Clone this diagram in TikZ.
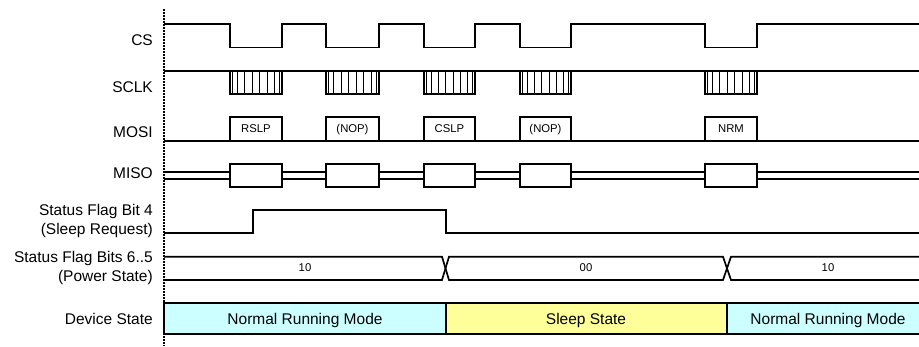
\documentclass[tikz,border=0pt]{standalone}
\usepackage{fontspec}
\setmainfont{Liberation Sans}
\definecolor{runcol}{HTML}{CCFFFF}
\definecolor{sleepcol}{HTML}{FFFF99}

\begin{document}
\begin{tikzpicture}[
  x=1pt,y=-1pt,
  sig/.style={line width=1.7pt,line join=miter},
  tick/.style={line width=1pt},
  lbl/.style={anchor=base east,inner sep=0pt,font=\fontsize{15.5}{19}\selectfont},
  lbltwo/.style={anchor=east,inner sep=0pt,align=right,font=\fontsize{15.5}{19}\selectfont},
  val/.style={anchor=base,inner sep=0pt,font=\fontsize{11.3}{13}\selectfont},
  statetxt/.style={anchor=base,inner sep=0pt,font=\fontsize{15.5}{19}\selectfont}
]
\useasboundingbox (0,0) rectangle (919,346);
\draw[line width=1.3pt,dash pattern=on 1.5pt off 1.5pt] (164,9) -- (164,346);

% signal names
\node[lbl] (cs) at (153,45) {CS};
\node[lbl] (sclk) at (153,92.7) {SCLK};
\node[lbl] (mosi) at (153,137.7) {MOSI};
\node[lbl] (miso) at (153,178) {MISO};
\node[lbltwo] (flag) at (153,221) {Status Flag Bit 4\\(Sleep Request)};
\node[lbltwo] (power) at (153,267.5) {Status Flag Bits 6..5\\(Power State)};
\node[lbl] (dev) at (153,324) {Device State};

% CS
\draw[sig] (164,24) foreach \a/\b in {230/282,326/379,424/475,520/571,705/757} {
  -- (\a,24) -- (\a,47.6) -- (\b,47.6) -- (\b,24) } -- (925,24);

% SCLK bursts
\draw[sig] (164,70.7) -- (925,70.7);
\foreach \a/\b in {230/282,326/379,424/475,520/571,705/757} {
  \draw[sig] (\a,70.7) rectangle (\b,94.3);
  \foreach \k in {1,...,6}
    \draw[tick] ({\a+\k*(\b-\a)/7},70.7) -- ++(0,23.6);
  \draw[tick] (\a+2.8,70.7) -- ++(0,23.6) (\b-2.8,70.7) -- ++(0,23.6);
}

% MOSI commands
\draw[sig] (164,140.7) -- (925,140.7);
\foreach \a/\b/\t [count=\i] in {230/282/RSLP,326/379/{(NOP)},424/475/CSLP,520/571/{(NOP)},705/757/NRM} {
  \draw[sig] (\a,140.7) |- (\b,117.3) -- (\b,140.7);
  \node[val] (cmd\i) at ({(\a+\b)/2},132.3) {\t};
}

% MISO
\draw[sig] (164,172) -- (925,172) (164,179) -- (925,179);
\foreach \a/\b in {230/282,326/379,424/475,520/571,705/757}
  \draw[sig,fill=white] (\a,164) rectangle (\b,187);

% status flag bit 4
\draw[sig] (164,233.3) -- (252.7,233.3) |- (445.7,210.3) -- (445.7,233.3) -- (925,233.3);

% status flag bits 6..5
\draw[sig] (164,256.7) -- (442,256.7) -- (449,280) -- (723,280) -- (731,256.7) -- (925,256.7);
\draw[sig] (164,280) -- (442,280) -- (449,256.7) -- (723,256.7) -- (731,280) -- (925,280);
\node[val] (pw1) at (305,271.7) {10};
\node[val] (pw2) at (586,271.7) {00};
\node[val] (pw3) at (828,271.7) {10};

% device state
\draw[sig,fill=runcol] (164,303.3) rectangle (446,334);
\draw[sig,fill=sleepcol] (446,303.3) rectangle (727,334);
\draw[sig,fill=runcol] (727,303.3) rectangle (925,334);
\node[statetxt] (run1) at (305,324) {Normal Running Mode};
\node[statetxt] (sleep) at (586,324) {Sleep State};
\node[statetxt] (run2) at (828,324) {Normal Running Mode};
\end{tikzpicture}
\end{document}
